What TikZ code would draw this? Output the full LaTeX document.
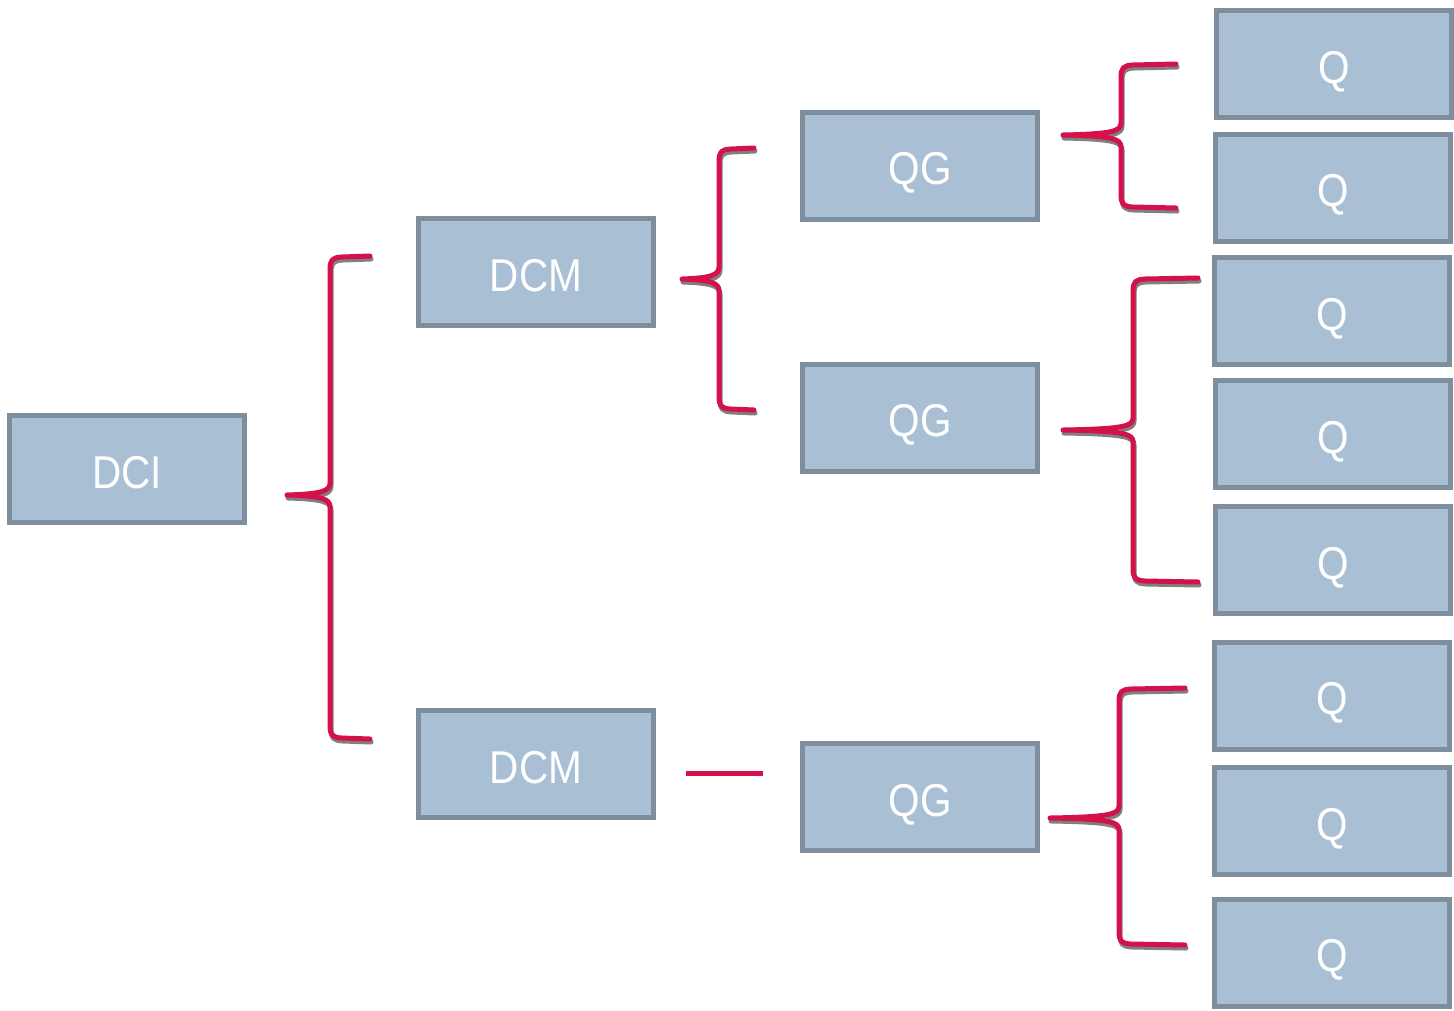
\documentclass[tikz,border=0pt]{standalone}
\usepackage{fontspec}
\setmainfont{Liberation Sans}[FakeStretch=0.88]
\definecolor{boxfill}{HTML}{A9C0D4}
\definecolor{boxline}{HTML}{7F8E9C}
\definecolor{bred}{HTML}{D4114A}
\newcommand\bracepath[6]{(#6,#4) -- ({#3+12},{#4+1}) .. controls ({#3+2},{#4+1.5}) and (#3,{#4+4}) .. (#3,{#4+14}) -- (#3,{#2-12}) .. controls (#3,{#2-4}) and ({#3-8},{#2-1}) .. (#1,#2) .. controls ({#3-8},{#2+1}) and (#3,{#2+4}) .. (#3,{#2+12}) -- (#3,{#5-14}) .. controls (#3,{#5-4}) and ({#3+2},{#5-1.5}) .. ({#3+12},{#5-1}) -- (#6,#5)}
\tikzset{
  bx/.style={draw=boxline, fill=boxfill, line width=5pt, minimum width=235pt, minimum height=107pt, inner sep=0pt, text height=38pt, text depth=0pt, text=white, font=\fontsize{46}{50}\selectfont},
  brc/.style={draw=bred, line width=5pt, line cap=round, line join=round},
  brcshadow/.style={draw=black!50, line width=5pt, line cap=round, line join=round, shift={(1pt,-3pt)}}
}
\newcommand\mybrace[6]{%
  \draw[brcshadow] \bracepath{#1}{#2}{#3}{#4}{#5}{#6};
  \draw[brc] \bracepath{#1}{#2}{#3}{#4}{#5}{#6};}
\begin{document}
\begin{tikzpicture}[x=1pt,y=-1pt]
\useasboundingbox (0,0) rectangle (1454,1010);
\node[bx] (dci) at (127,469) {DCI};
\node[bx] (dcm1) at (536,272) {DCM};
\node[bx] (dcm2) at (536,764) {DCM};
\node[bx] (qg1) at (920,165.5) {QG};
\node[bx] (qg2) at (920,417.5) {QG};
\node[bx] (qg3) at (920,797) {QG};
\node[bx] (q1) at (1334,64) {Q};
\node[bx] (q2) at (1333,187.5) {Q};
\node[bx] (q3) at (1332,311) {Q};
\node[bx] (q4) at (1333,434) {Q};
\node[bx] (q5) at (1333,560) {Q};
\node[bx] (q6) at (1332,695.5) {Q};
\node[bx] (q7) at (1332,821) {Q};
\node[bx] (q8) at (1332,952.5) {Q};
\mybrace{287}{495}{330}{256}{739}{370}
\mybrace{682}{279}{719}{148}{410}{754}
\mybrace{1063}{135}{1121}{64}{208}{1176}
\mybrace{1063}{430}{1133}{278}{582}{1198}
\mybrace{1050}{818}{1119}{688}{945}{1185}
\coordinate (la) at (686,773);
\coordinate (lb) at (763,773);
\draw[draw=black!50, line width=5pt, shift={(0pt,-3pt)}] (la) -- (lb);
\draw[draw=bred, line width=5pt] (la) -- (lb);
\end{tikzpicture}
\end{document}
